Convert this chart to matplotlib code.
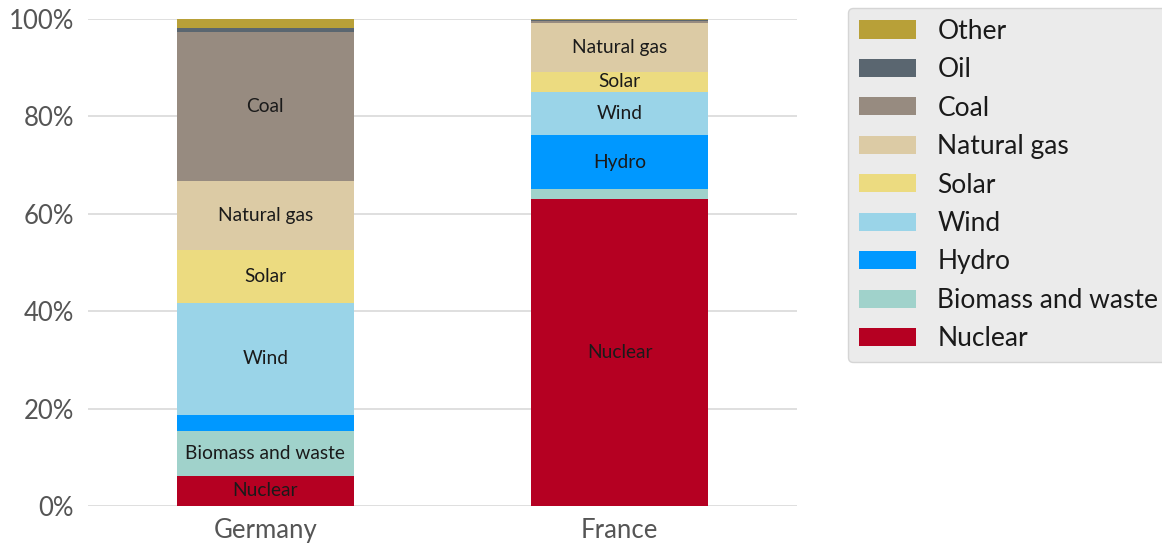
import matplotlib
matplotlib.use("Agg")
import matplotlib.pyplot as plt
import numpy as np

countries = ["Germany", "France"]
sources = ["Nuclear", "Biomass and waste", "Hydro", "Wind", "Solar",
           "Natural gas", "Coal", "Oil", "Other"]
germany = [6.2, 9.2, 3.3, 23.0, 10.9, 14.1, 30.7, 0.7, 1.9]
france = [63.0, 2.0, 11.1, 9.0, 4.0, 10.1, 0.4, 0.3, 0.1]
colors = ["#b50022", "#a0d2cb", "#0098ff", "#9ad4e8", "#ecdb80",
          "#dccba5", "#978b80", "#5a6670", "#b8a038"]

FONT = ["Lato", "DejaVu Sans"]
plt.rcParams["font.family"] = FONT

shares = np.array([germany, france]).T  # rows = sources
x = np.arange(len(countries))

fig = plt.figure(figsize=(11.62, 5.45), dpi=100)
ax = fig.add_axes([0.0757, 0.0716, 0.6102, 0.8934])

bottom = np.zeros(len(countries))
handles = []
for src, vals, col in zip(sources, shares, colors):
    bars = ax.bar(x, vals, 0.5, bottom=bottom, color=col, label=src, zorder=3)
    handles.append(bars)
    # only label segments tall enough to hold text
    for xi, v, b in zip(x, vals, bottom):
        if v >= 3.5:
            ax.text(xi, b + v / 2, src, ha="center", va="center",
                    fontsize=13.8, color="#1a1a1a", zorder=4)
    bottom += vals

ax.set_xlim(-0.5, 1.5)
ax.set_ylim(0, 100)
ax.set_xticks(x)
ax.set_xticklabels(countries)
ax.set_yticks(np.arange(0, 101, 20))
ax.set_yticklabels([f"{v}%" for v in range(0, 101, 20)])
ax.tick_params(axis="both", length=0, labelsize=18.5, colors="#555555")
ax.tick_params(axis="y", pad=10)
ax.tick_params(axis="x", pad=9)
for s in ax.spines.values():
    s.set_visible(False)
ax.yaxis.grid(True, color="#d9d9d9", linewidth=1.2, zorder=0)
ax.set_axisbelow(True)

leg = fig.legend(handles[::-1], sources[::-1], loc="upper left",
                 bbox_to_anchor=(0.7298, 0.985), borderaxespad=0,
                 fontsize=19, frameon=True, facecolor="#ebebeb",
                 edgecolor="#d5d5d5", framealpha=1,
                 handlelength=2.16, handleheight=0.68, labelspacing=0.51,
                 handletextpad=0.83, borderpad=0.4, fancybox=True)
for t in leg.get_texts():
    t.set_color("#1a1a1a")

fig.savefig("out.png", dpi=100)
